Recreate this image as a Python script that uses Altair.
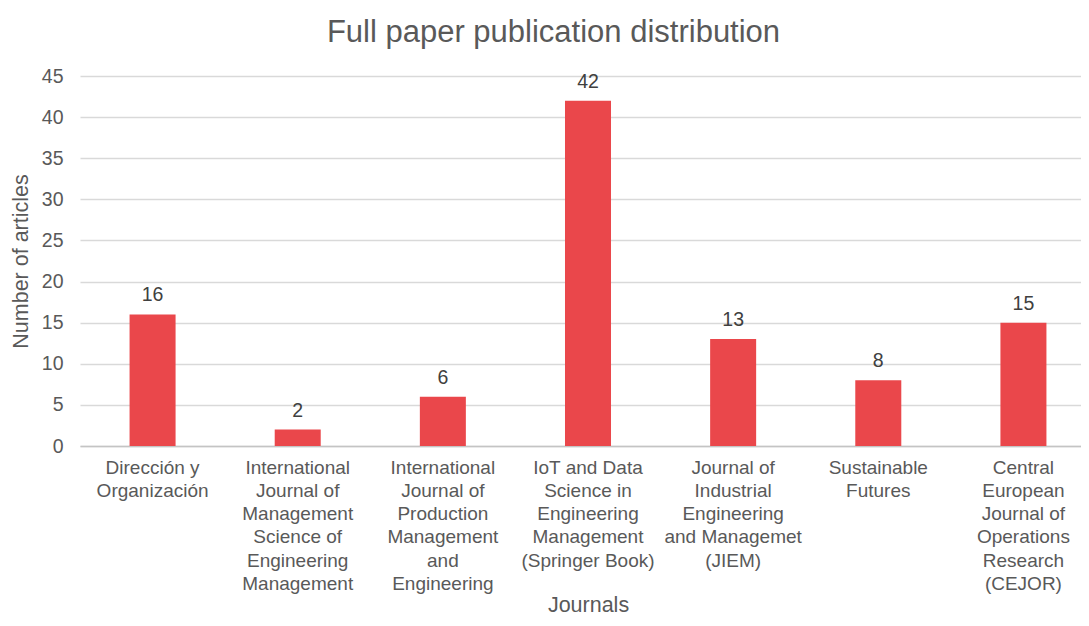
import altair as alt
import pandas as pd

journals = [
    "Dirección y|Organización",
    "International|Journal of|Management|Science of|Engineering|Management",
    "International|Journal of|Production|Management|and|Engineering",
    "IoT and Data|Science in|Engineering|Management|(Springer Book)",
    "Journal of|Industrial|Engineering|and Managemet|(JIEM)",
    "Sustainable|Futures",
    "Central|European|Journal of|Operations|Research|(CEJOR)",
]
articles = [16, 2, 6, 42, 13, 8, 15]
y_ticks = [0, 5, 10, 15, 20, 25, 30, 35, 40, 45]

df = pd.DataFrame({"journal": journals, "articles": articles})

FONT = "Liberation Sans"
GRAY = "#595959"

x = alt.X(
    "journal:N",
    sort=None,
    title="Journals",
    scale=alt.Scale(range=[0, 1016], paddingInner=0.683, paddingOuter=0.3415),
    axis=alt.Axis(
        labelAngle=0,
        labelExpr="split(datum.label, '|')",
        labelFontSize=19,
        labelColor=GRAY,
        labelFont=FONT,
        labelLineHeight=23.3,
        labelLimit=250,
        labelPadding=12,
        labelBaseline="top",
        labelOverlap=False,
        ticks=False,
        domainColor="#C4C4C4",
        domainWidth=1.5,
        titleFont=FONT,
        titleFontSize=21.5,
        titleFontWeight="normal",
        titleColor=GRAY,
        titlePadding=1,
    ),
)
y = alt.Y(
    "articles:Q",
    title="Number of articles",
    scale=alt.Scale(domain=[0, 45], nice=False),
    axis=alt.Axis(
        values=y_ticks,
        labelFontSize=19.5,
        labelColor=GRAY,
        labelFont=FONT,
        labelPadding=17,
        ticks=False,
        domain=False,
        gridColor="#D9D9D9",
        gridWidth=1.5,
        titleFont=FONT,
        titleFontSize=21.5,
        titleFontWeight="normal",
        titleColor=GRAY,
        titlePadding=9,
    ),
)

bars = alt.Chart(df).mark_bar(color="#EA474B").encode(x=x, y=y)
labels = alt.Chart(df).mark_text(
    dy=-9, baseline="bottom", font=FONT, fontSize=19.5, color="#404040"
).encode(x=x, y=y, text="articles:Q")

chart = (
    alt.layer(bars, labels)
    .properties(
        width=1001,
        height=370,
        title=alt.TitleParams(
            "Full paper publication distribution",
            font=FONT,
            fontSize=31,
            fontWeight="normal",
            color=GRAY,
            offset=17,
            dx=-27,
        ),
        autosize=alt.AutoSizeParams(type="none"),
        padding={"left": 72, "top": 68, "right": 0, "bottom": 172},
    )
    .configure_view(stroke=None)
)

chart.save("out.html", embed_options={"renderer": "svg", "actions": False})
